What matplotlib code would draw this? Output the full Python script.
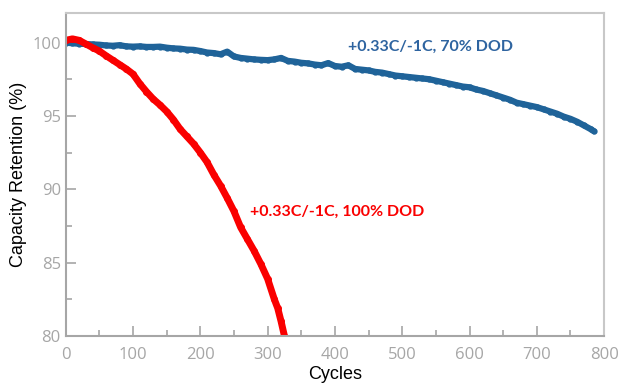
import matplotlib.pyplot as plt
from matplotlib.ticker import MultipleLocator

# ciclos y retencion de capacidad
ciclos_70 = [0, 10, 20, 30, 40, 50, 60, 70, 80, 90,
             100, 110, 120, 130, 140, 150, 160, 170, 180, 190,
             200, 210, 220, 230, 240, 250, 260, 270, 280, 290,
             300, 310, 320, 330, 340, 350, 360, 370, 380, 390,
             400, 410, 420, 430, 440, 450, 460, 470, 480, 490,
             500, 510, 520, 530, 540, 550, 560, 570, 580, 590,
             600, 610, 620, 630, 640, 650, 660, 670, 680, 690,
             700, 710, 720, 730, 740, 750, 760, 770, 780, 785]
ret_70 = [100.0, 99.95, 99.92, 99.9, 99.87, 99.85, 99.8, 99.78, 99.82, 99.74,
          99.72, 99.74, 99.7, 99.7, 99.72, 99.65, 99.6, 99.58, 99.52, 99.5,
          99.42, 99.32, 99.28, 99.2, 99.38, 99.05, 98.95, 98.9, 98.85, 98.82,
          98.8, 98.85, 98.95, 98.75, 98.7, 98.62, 98.58, 98.5, 98.45, 98.6,
          98.4, 98.35, 98.45, 98.2, 98.15, 98.1, 98.0, 97.95, 97.85, 97.75,
          97.7, 97.65, 97.6, 97.55, 97.5, 97.4, 97.3, 97.2, 97.1, 97.0,
          96.95, 96.8, 96.7, 96.55, 96.4, 96.25, 96.1, 95.9, 95.8, 95.7,
          95.6, 95.45, 95.3, 95.15, 94.95, 94.8, 94.6, 94.35, 94.1, 93.95]

ciclos_100 = [0, 10, 20, 30, 40, 50, 60, 70, 80, 90,
              100, 110, 120, 130, 140, 150, 160, 170, 180, 190,
              200, 210, 220, 230, 240, 250, 260, 270, 280, 290,
              300, 310, 315, 320, 325, 328]
ret_100 = [100.15, 100.25, 100.15, 99.9, 99.65, 99.42, 99.1, 98.8, 98.5, 98.2,
           97.85, 97.2, 96.65, 96.15, 95.75, 95.3, 94.75, 94.1, 93.6, 93.1,
           92.5, 91.85, 91.0, 90.25, 89.4, 88.5, 87.4, 86.6, 85.8, 84.9,
           83.9, 82.5, 81.9, 81.0, 80.0, 79.6]

azul = '#1f6399'
rojo = '#fa0000'
gris = '#a6a6a6'

fig = plt.figure(figsize=(6.26, 3.88), dpi=100)
ax = fig.add_axes([0.105, 0.134, 0.86, 0.832])

ax.plot(ciclos_70, ret_70, color=azul, lw=4.5, marker='o', ms=3.5,
        solid_capstyle='round', solid_joinstyle='round')
ax.plot(ciclos_100, ret_100, color=rojo, lw=5, marker='o', ms=4,
        solid_capstyle='round', solid_joinstyle='round')

ax.text(420, 99.7, '+0.33C/-1C, 70% DOD', color='#2e64a0', fontsize=11.5,
        fontweight='bold', va='center', ha='left', family='Lato')
ax.text(274, 88.45, '+0.33C/-1C, 100% DOD', color=rojo, fontsize=11.5,
        fontweight='bold', va='center', ha='left', family='Lato')

ax.set_xlim(0, 800)
ax.set_ylim(80, 102)
ax.xaxis.set_major_locator(MultipleLocator(100))
ax.xaxis.set_minor_locator(MultipleLocator(50))
ax.yaxis.set_major_locator(MultipleLocator(5))
ax.yaxis.set_minor_locator(MultipleLocator(2.5))
ax.tick_params(which='both', direction='in', colors=gris, labelsize=12,
               labelcolor=gris, width=1.2)
ax.tick_params(which='major', length=7)
ax.tick_params(which='minor', length=4)
ax.tick_params(axis='x', pad=8)
for lab in ax.get_xticklabels() + ax.get_yticklabels():
    lab.set_family('Open Sans')
for s in ax.spines.values():
    s.set_color(gris)
    s.set_linewidth(1.5)
for s in ['top', 'right']:
    ax.spines[s].set_color('#c8c8c8')

ax.set_xlabel('Cycles', fontsize=13, color='black', labelpad=2,
              family='Liberation Sans')
ax.set_ylabel('Capacity Retention (%)', fontsize=13, color='black',
              labelpad=4, family='Liberation Sans')

plt.savefig('out.png', dpi=100)
